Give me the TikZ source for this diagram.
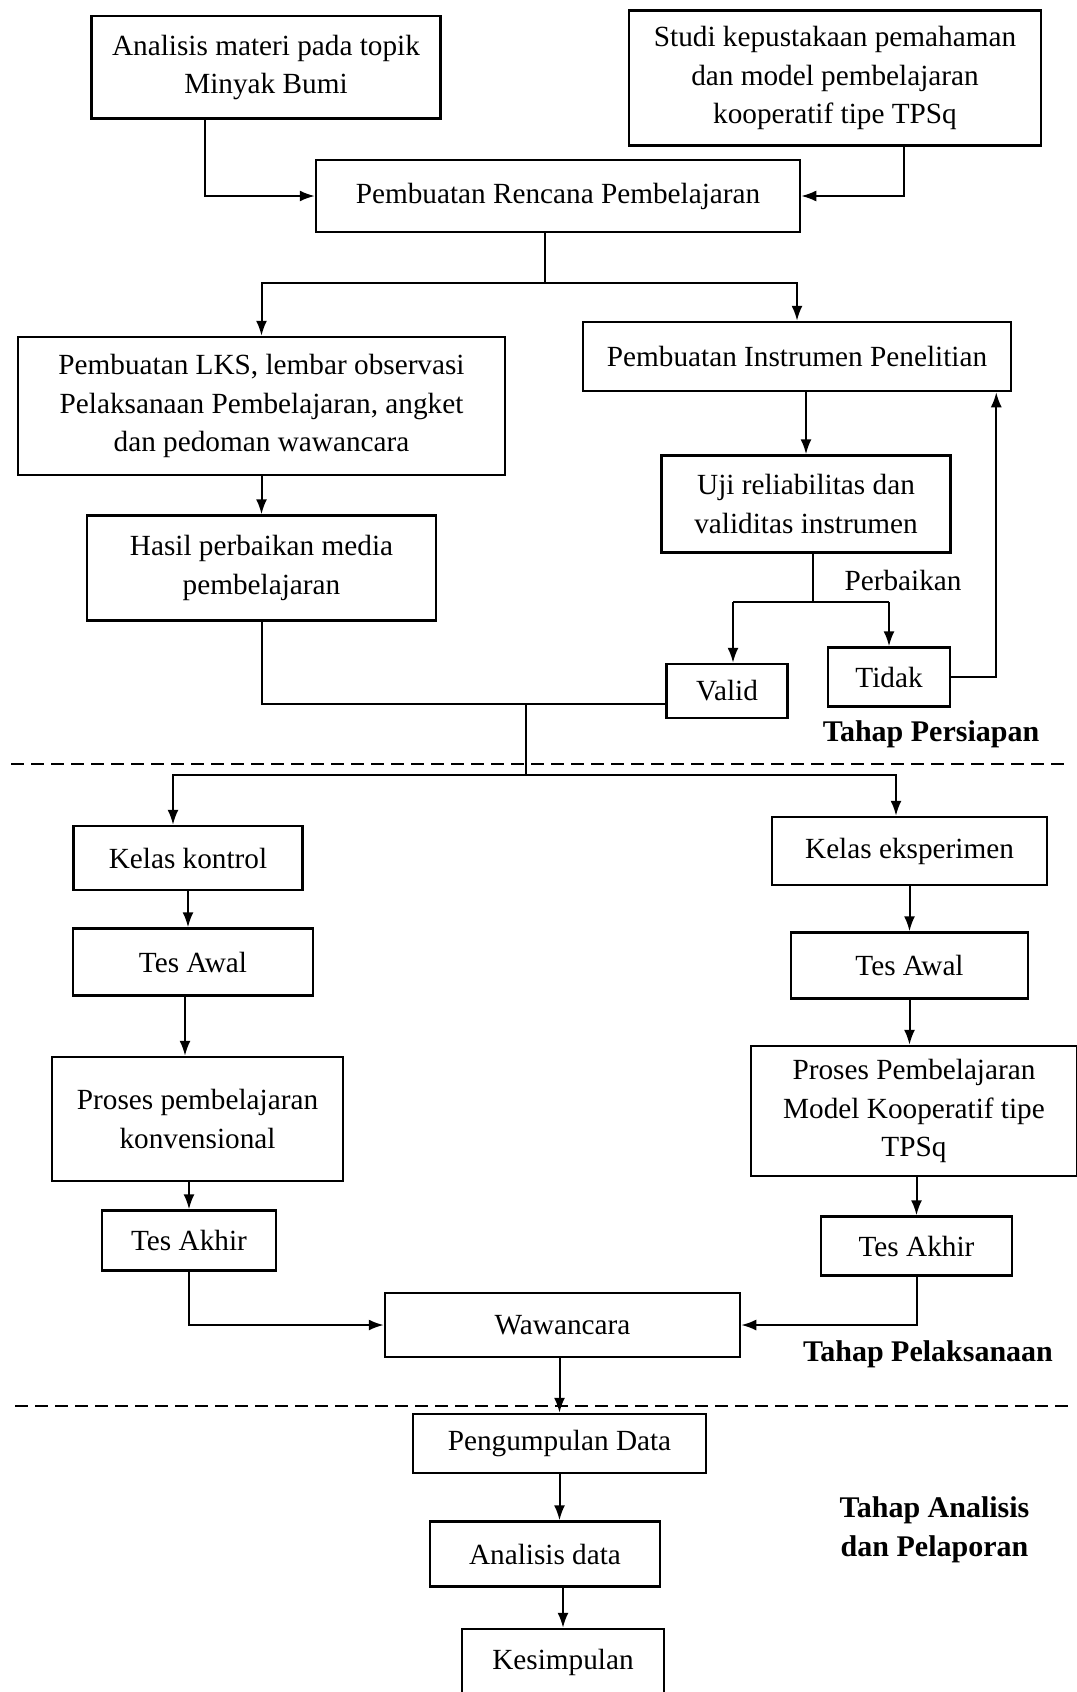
\documentclass[tikz,border=0pt]{standalone}
\usepackage{fontspec}
\setmainfont{Liberation Serif}
\usepackage{tikz}
\usetikzlibrary{arrows.meta,positioning}

\begin{document}
\begin{tikzpicture}[
  x=0.4pt, y=-0.4pt,
  box/.style={draw, line width=1pt, align=center, inner sep=3pt, font=\fontsize{11.7}{15.5}\selectfont},
  arr/.style={-{Latex[length=6pt,width=4.4pt]}, line width=0.8pt},
  garis/.style={line width=0.8pt},
  pemisah/.style={dash pattern=on 5pt off 3pt, line width=0.8pt},
  tahap/.style={font=\fontsize{12}{15.5}\selectfont\bfseries, align=center},
]
  \useasboundingbox (0,0) rectangle (1077,1692);

  % tahap persiapan
  \node[box, minimum width=139.6pt, minimum height=41pt] (analisis) at (266,67.5) {Analisis materi pada topik\\ Minyak Bumi};
  \node[box, minimum width=164.8pt, minimum height=54pt] (studi) at (835,78) {Studi kepustakaan pemahaman\\ dan model pembelajaran\\ kooperatif tipe TPSq};
  \node[box, minimum width=193.6pt, minimum height=28.8pt] (rencana) at (558,196) {Pembuatan Rencana Pembelajaran};
  \node[box, minimum width=194.8pt, minimum height=55.2pt] (lks) at (261.5,406) {Pembuatan LKS, lembar observasi\\ Pelaksanaan Pembelajaran, angket\\ dan pedoman wawancara};
  \node[box, minimum width=171.2pt, minimum height=27.6pt] (instrumen) at (797,356.5) {Pembuatan Instrumen Penelitian};
  \node[box, minimum width=139.6pt, minimum height=42pt, below=15.2pt of lks] (hasil) {Hasil perbaikan media\\ pembelajaran};
  \node[box, minimum width=115.6pt, minimum height=38.8pt, below=24.8pt of instrumen, xshift=3.6pt] (uji) {Uji reliabilitas dan\\ validitas instrumen};
  \node[box, minimum width=48.4pt, minimum height=21.6pt] (valid) at (727,691) {Valid};
  \node[box, minimum width=48.8pt, minimum height=23.6pt] (tidak) at (889,677) {Tidak};
  \node[font=\fontsize{11.7}{15.5}\selectfont] (perbaikan) at (903,580) {Perbaikan};
  \node[tahap] (persiapan) at (931,734) {Tahap Persiapan};

  \coordinate (cabang1) at (545,283);
  \coordinate (cabang2) at (813,602);
  \coordinate (cabang3) at (526,704);
  \coordinate (cabang4) at (526,775);

  \draw[arr] ([xshift=-24.4pt]analisis.south) |- (rencana.west);
  \draw[arr] ([xshift=27.6pt]studi.south) |- (rencana.east);
  \draw[garis] (cabang1 |- rencana.south) -- (cabang1);
  \draw[arr] (cabang1) -| (lks);
  \draw[arr] (cabang1) -| (instrumen);
  \draw[arr] (lks.south) -- (lks.south |- hasil.north);
  \draw[arr] (uji.north |- instrumen.south) -- (uji.north);
  \draw[garis] (cabang2 |- uji.south) -- (cabang2);
  \draw[garis] ([xshift=2.4pt]valid.north |- cabang2) -- (tidak.north |- cabang2);
  \draw[arr] ([xshift=2.4pt]valid.north |- cabang2) -- ([xshift=2.4pt]valid.north);
  \draw[arr] (tidak.north |- cabang2) -- (tidak.north);
  \draw[arr] (tidak.east) -| ([xshift=-6.4pt]instrumen.south east);
  \draw[garis] (hasil.south) |- ([yshift=-5.2pt]valid.west);
  \draw[garis] (cabang3) -- (cabang4);

  \draw[pemisah] (11,764) -- (1068,764);

  % tahap pelaksanaan
  \node[box, minimum width=91.6pt, minimum height=25.6pt] (kontrol) at (188,858) {Kelas kontrol};
  \node[box, minimum width=96pt, minimum height=26.8pt, below=14.4pt of kontrol, xshift=2pt] (awalK) {Tes Awal};
  \node[box, minimum width=116.4pt, minimum height=49.6pt, below=23.6pt of awalK, xshift=1.8pt] (prosesK) {Proses pembelajaran\\ konvensional};
  \node[box, minimum width=69.6pt, minimum height=24pt, below=10.8pt of prosesK, xshift=-3.4pt] (akhirK) {Tes Akhir};
  \node[box, minimum width=110pt, minimum height=27.2pt] (eksperimen) at (909.5,851) {Kelas eksperimen};
  \node[box, minimum width=94.8pt, minimum height=26.4pt, below=18pt of eksperimen] (awalE) {Tes Awal};
  \node[box, minimum width=130.4pt, minimum height=52pt, below=18pt of awalE, xshift=1.8pt] (prosesE) {Proses Pembelajaran\\ Model Kooperatif tipe\\ TPSq};
  \node[box, minimum width=76.4pt, minimum height=23.6pt, below=15.2pt of prosesE, xshift=1pt] (akhirE) {Tes Akhir};
  \node[box, minimum width=142pt, minimum height=25.6pt] (wawancara) at (562.5,1325) {Wawancara};
  \node[tahap] (pelaksanaan) at (928,1354) {Tahap Pelaksanaan};

  \draw[arr] (cabang4) -| ([xshift=-6pt]kontrol.north);
  \draw[arr] (cabang4) -| ([xshift=-5.4pt]eksperimen.north);
  \draw[arr] (kontrol.south) -- (kontrol.south |- awalK.north);
  \draw[arr] ([xshift=-3.2pt]awalK.south) -- ([xshift=-3.2pt]awalK.south |- prosesK.north);
  \draw[arr] (akhirK.north |- prosesK.south) -- (akhirK.north);
  \draw[arr] (awalE.north |- eksperimen.south) -- (awalE.north);
  \draw[arr] (awalE.south) -- (awalE.south |- prosesE.north);
  \draw[arr] (akhirE.north |- prosesE.south) -- (akhirE.north);
  \draw[arr] (akhirK.south) |- (wawancara.west);
  \draw[arr] (akhirE.south) |- (wawancara.east);

  \draw[pemisah] (15,1406) -- (1074,1406);

  % tahap analisis dan pelaporan
  \node[box, minimum width=117.2pt, minimum height=23.6pt] (kumpul) at (559.5,1443.5) {Pengumpulan Data};
  \node[box, minimum width=92pt, minimum height=26pt, below=18.4pt of kumpul, xshift=-5.8pt] (analisisdata) {Analisis data};
  \node[box, minimum width=80.8pt, minimum height=26.4pt, below=16pt of analisisdata, xshift=7.2pt] (kesimpulan) {Kesimpulan};
  \node[tahap] (analisislapor) at (934.5,1530) {Tahap Analisis\\ dan Pelaporan};

  \draw[arr] (kumpul.north |- wawancara.south) -- (kumpul.north);
  \draw[arr] (kumpul.south) -- (kumpul.south |- analisisdata.north);
  \draw[arr] (kesimpulan.north |- analisisdata.south) -- (kesimpulan.north);
\end{tikzpicture}
\end{document}
